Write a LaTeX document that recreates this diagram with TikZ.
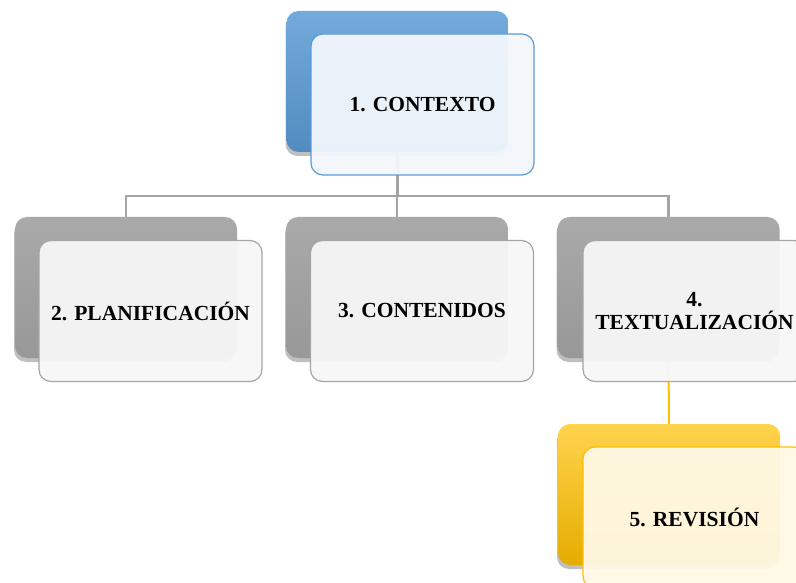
\documentclass[tikz,border=0pt]{standalone}
\usepackage{fontspec}
\setmainfont{Liberation Serif}
\usetikzlibrary{shadows}
\definecolor{lineblue}{HTML}{5B9BD5}
\definecolor{linegray}{HTML}{A5A5A5}
\definecolor{lineyellow}{HTML}{FFC000}
\tikzset{
    every node/.style={align=center,},
    back/.style={rectangle,rounded corners=12pt,minimum width=222pt,minimum height=141pt,inner sep=0pt,
        drop shadow={shadow xshift=-1pt,shadow yshift=-4pt,opacity=.25,fill=black}},
    front/.style={draw,rectangle,rounded corners=12pt,minimum width=223pt,minimum height=141pt,inner sep=0pt,
        line width=1.2pt,fill opacity=.95,text opacity=1,font=\bfseries\fontsize{21.5}{23}\selectfont},
    blueback/.style={back,top color=lineblue!85!white,bottom color=lineblue!90!black},
    grayback/.style={back,top color=linegray!95!white,bottom color=linegray!92!black},
    yellowback/.style={back,top color=lineyellow!70!white,middle color=lineyellow,bottom color=lineyellow!90!black},
    bluefront/.style={front,draw=lineblue,fill=lineblue!8!white},
    grayfront/.style={front,draw=linegray,fill=black!3},
    yellowfront/.style={front,draw=lineyellow,fill=lineyellow!10!white},
    grayline/.style={draw=linegray,line width=2.5pt},
    yellowline/.style={draw=lineyellow,line width=2pt},
}

\begin{document}
\begin{tikzpicture}[x=1pt,y=-1pt]
                \useasboundingbox (0,0) rectangle (796,583);
                \clip (0,0) rectangle (796,583);

                \node[blueback] (ctx_back) at (397.5, 81.5) {};
                \node[grayback] (plan_back) at (126, 287.5) {};
                \node[grayback] (cont_back) at (397, 287.5) {};
                \node[grayback] (text_back) at (668.5, 287.5) {};
                \node[yellowback] (rev_back) at (669, 494.5) {};

                \coordinate (hub) at (397.5, 196);
                \draw[grayline] (ctx_back.south) to (hub);
                \draw[grayline] (hub) -| (plan_back.north);
                \draw[grayline] (hub) -| (cont_back.north);
                \draw[grayline] (hub) -| (text_back.north);
                \draw[yellowline] (text_back.south) to (rev_back.north);

                \node[bluefront] (ctx) at (422.5, 104.5) {1. CONTEXTO};
                \node[grayfront] (plan) at (150.5, 311) {2. PLANIFICACIÓN};
                \node[grayfront] (cont) at (422, 311) {3. CONTENIDOS};
                \node[grayfront] (text) at (694.5, 311) {4.\\TEXTUALIZACIÓN};
                \node[yellowfront] (rev) at (694.5, 517.5) {5. REVISIÓN};
            \end{tikzpicture}
\end{document}
